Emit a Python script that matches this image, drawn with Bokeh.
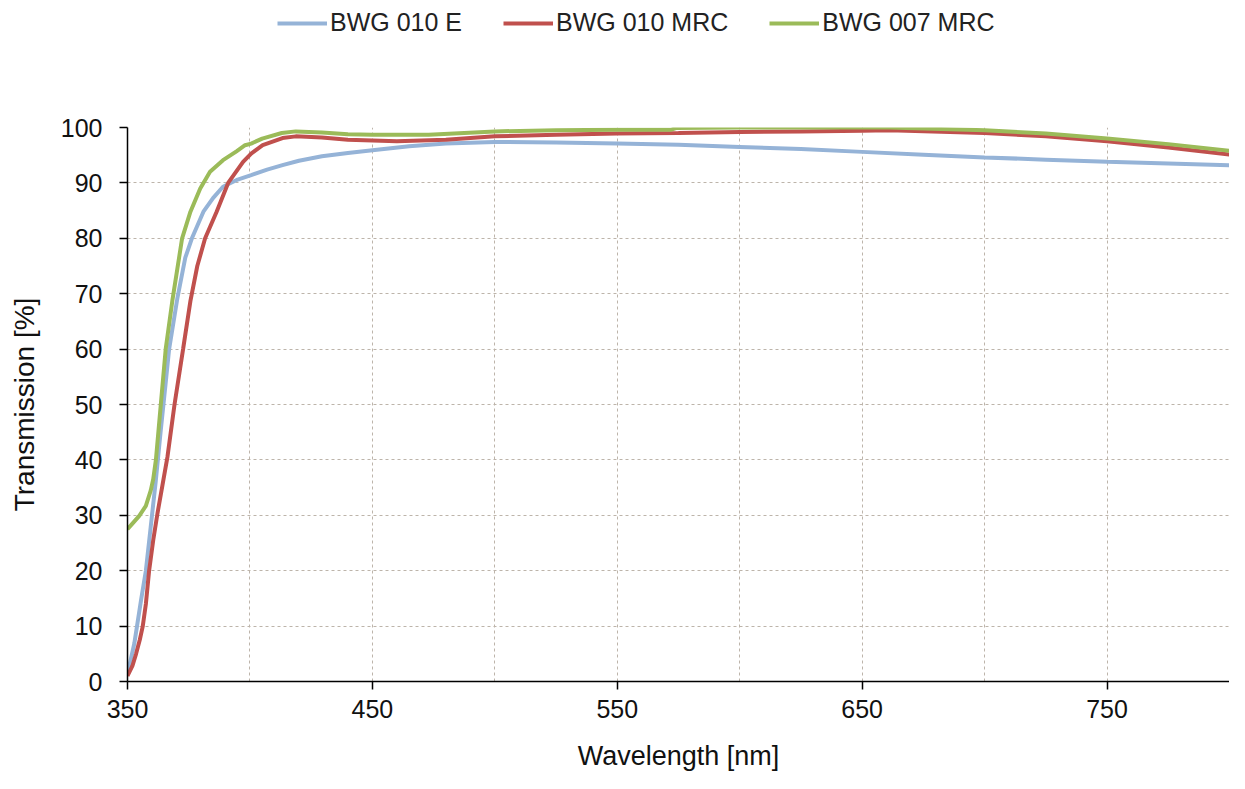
from bokeh.plotting import figure
from bokeh.models import FixedTicker, Legend, LegendItem, Range1d
from bokeh.layouts import column
from bokeh.embed import file_html
from bokeh.resources import INLINE

# ---- data ----
blue_wl = [350, 352.8, 355.5, 357.5, 359.5, 361.5, 363.5, 365.5, 367, 370.3, 373.6, 376.3,
           381, 385, 389, 395, 400.5, 407, 413.3, 420, 429.4, 440, 450, 465, 480, 500,
           525, 550, 575, 600, 625, 650, 675, 700, 725, 750, 775, 800]
blue_t = [1.3, 6.9, 14.6, 20, 28, 36, 45, 53.5, 60, 69, 76.5, 80,
          84.8, 87.3, 89.3, 90.6, 91.4, 92.4, 93.2, 94, 94.8, 95.4, 95.9, 96.6, 97.1, 97.4,
          97.3, 97.1, 96.9, 96.5, 96.1, 95.6, 95.1, 94.6, 94.2, 93.8, 93.5, 93.2]

red_wl = [350, 352, 353.5, 355, 356.2, 357.5, 358.8, 360.5, 362.3, 364.3, 366.3, 369.2,
          372.7, 375.7, 378.5, 381.7, 386.4, 391.1, 397.2, 400.5, 405.2, 413.3, 418.7,
          429.4, 440, 460, 480, 500, 525, 550, 575, 600, 625, 650, 661, 700, 725, 750,
          775, 800]
red_t = [1, 2.8, 5, 7.5, 9.9, 14, 19.9, 25.5, 30.5, 35.5, 40.5, 50,
         60, 68.7, 75, 80, 84.8, 90, 93.8, 95.3, 96.8, 98.1, 98.4,
         98.2, 97.8, 97.5, 97.8, 98.4, 98.7, 98.9, 99.0, 99.2, 99.3, 99.4, 99.5, 99.0, 98.4, 97.5,
         96.4, 95.1]

green_wl = [350, 352, 354.8, 357.5, 359.5, 360.5, 361.6, 363.6, 365.6, 368.3, 372.3, 375.7,
            379.7, 383.7, 389, 394.5, 398, 400.5, 405, 413, 418.7, 429.4, 440, 450, 473,
            500, 525, 550, 572, 574, 600, 650, 661, 700, 725, 750, 775, 800]
green_t = [27.5, 28.5, 29.9, 31.7, 34.5, 36.5, 40, 50, 60, 68.7, 80, 84.8,
           89, 92, 94.1, 95.7, 96.8, 97.1, 98, 99, 99.3, 99.1, 98.8, 98.7, 98.7,
           99.3, 99.5, 99.6, 99.6, 99.9, 100, 100, 100, 99.5, 98.9, 98, 97, 95.8]

series_names = ["BWG 010 E", "BWG 010 MRC", "BWG 007 MRC"]
series_colors = ["#95B3D7", "#C0504D", "#9BBB59"]

x_major = [350, 450, 550, 650, 750]
x_minor = [400, 500, 600, 700, 800]
y_ticks = [0, 10, 20, 30, 40, 50, 60, 70, 80, 90, 100]

FONT = "Liberation Sans"
W = 1229
LEG_H = 45

# ---- legend strip (separate small figure so the legend is not clipped) ----
lf = figure(width=W, height=LEG_H, output_backend="svg", toolbar_location=None,
            x_range=Range1d(0, 1), y_range=Range1d(0, 1),
            x_axis_type=None, y_axis_type=None,
            min_border_left=0, min_border_right=0, min_border_top=0, min_border_bottom=0)
lf.outline_line_color = None
lf.background_fill_color = "white"
lf.border_fill_color = "white"
# legend-only renderers: their points lie outside this strip's ranges, so only the legend swatch shows
leg_renderers = [lf.line(x=[5, 6], y=[5, 6], line_color=c, line_width=4) for c in series_colors]
items = [LegendItem(label=n, renderers=[r]) for n, r in zip(series_names, leg_renderers)]
legend = Legend(items=items, orientation="horizontal", location=(150, 8),
                glyph_width=50, glyph_height=20, label_text_font_size="25px",
                label_text_font=FONT, label_text_color="#222222", spacing=41, label_standoff=3,
                padding=0, margin=0, border_line_color=None, background_fill_alpha=0)
lf.add_layout(legend, "center")

# ---- main chart ----
p = figure(width=W, height=773 - LEG_H, output_backend="svg", toolbar_location=None,
           x_range=Range1d(350, 800), y_range=Range1d(0, 100),
           min_border_left=127, min_border_top=127 - LEG_H, min_border_right=0, min_border_bottom=88)
p.outline_line_color = None
p.background_fill_color = "white"
p.border_fill_color = "white"

for wl, t, c in zip([blue_wl, red_wl, green_wl], [blue_t, red_t, green_t], series_colors):
    p.line(wl, t, line_color=c, line_width=4)

p.xaxis.ticker = FixedTicker(ticks=x_major, minor_ticks=x_minor)
p.yaxis.ticker = FixedTicker(ticks=y_ticks)
for ax in (p.xaxis, p.yaxis):
    ax.axis_line_color = "black"
    ax.axis_line_width = 1.5
    ax.major_tick_line_color = "black"
    ax.major_tick_line_width = 1.5
    ax.major_tick_out = 8
    ax.major_tick_in = 0
    ax.minor_tick_out = 0
    ax.minor_tick_in = 0
    ax.major_label_text_font = FONT
    ax.major_label_text_font_size = "25px"
    ax.major_label_text_color = "#111111"
    ax.axis_label_text_font = FONT
    ax.axis_label_text_font_style = "normal"
    ax.axis_label_text_color = "#111111"

p.xaxis.axis_label_text_font_size = "27px"
p.yaxis.axis_label_text_font_size = "28px"
p.xaxis.axis_label = "Wavelength [nm]"
p.yaxis.axis_label = "Transmission [%]"
p.xaxis.major_label_standoff = 10
p.yaxis.major_label_standoff = 17
p.xaxis.axis_label_standoff = 20
p.yaxis.axis_label_standoff = 18

grid_col = "#bdb4aa"
p.xgrid.grid_line_color = grid_col
p.xgrid.grid_line_dash = "3 3"
p.xgrid.minor_grid_line_color = grid_col
p.xgrid.minor_grid_line_dash = "3 3"
p.ygrid.grid_line_color = grid_col
p.ygrid.grid_line_dash = "3 3"

layout = column(lf, p, spacing=0)
open("out.html", "w").write(file_html(layout, INLINE))
